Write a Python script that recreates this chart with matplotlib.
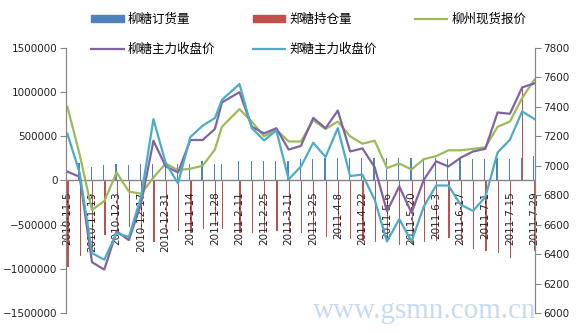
import matplotlib
matplotlib.use("Agg")
import matplotlib.pyplot as plt
import matplotlib.dates as mdates
from matplotlib.ticker import StrMethodFormatter
from matplotlib.patches import Patch
from matplotlib.lines import Line2D
import pandas as pd

# weekly observations; the 2011-02-01 point is the last trading day before the holiday
dates = [
    "2010-11-05", "2010-11-12", "2010-11-19", "2010-11-26", "2010-12-03",
    "2010-12-10", "2010-12-17", "2010-12-24", "2010-12-31", "2011-01-07",
    "2011-01-14", "2011-01-21", "2011-01-28", "2011-02-01", "2011-02-11",
    "2011-02-18", "2011-02-25", "2011-03-04", "2011-03-11", "2011-03-18",
    "2011-03-25", "2011-04-01", "2011-04-08", "2011-04-15", "2011-04-22",
    "2011-04-29", "2011-05-06", "2011-05-13", "2011-05-20", "2011-05-27",
    "2011-06-03", "2011-06-10", "2011-06-17", "2011-06-24", "2011-07-01",
    "2011-07-08", "2011-07-15", "2011-07-22", "2011-07-29",
]

tick_labels = [
    "2010-11-5", "2010-11-19", "2010-12-3", "2010-12-17", "2010-12-31",
    "2011-1-14", "2011-1-28", "2011-2-11", "2011-2-25", "2011-3-11",
    "2011-3-25", "2011-4-8", "2011-4-22", "2011-5-6", "2011-5-20",
    "2011-6-3", "2011-6-17", "2011-7-1", "2011-7-15", "2011-7-29",
]

# 柳糖订货量 / 郑糖持仓量 (left axis)
order_volume = [
    190000, 195000, 150000, 170000, 190000, 180000, 190000, 190000, 200000, 190000,
    190000, 225000, 190000, 190000, 225000, 225000, 225000, 225000, 225000, 245000,
    245000, 250000, 250000, 255000, 250000, 250000, 250000, 255000, 250000, 255000,
    250000, 245000, 250000, 245000, 240000, 250000, 245000, 250000, 280000,
]
open_interest = [
    -975000, -850000, -800000, -620000, -600000, -530000, -600000, -700000, -620000, -570000,
    -600000, -550000, -520000, -550000, -600000, -590000, -600000, -570000, -600000, -600000,
    -620000, -640000, -640000, -660000, -680000, -700000, -700000, -730000, -720000, -700000,
    -680000, -650000, -700000, -770000, -800000, -820000, -880000, 1060000, -800000,
]

# prices (right axis)
spot_price = [
    7400, 7075, 6700, 6760, 6955, 6825, 6810, 6920, 7015, 6970,
    6980, 7000, 7110, 7265, 7385, 7300, 7200, 7245, 7165, 7165,
    7310, 7250, 7300, 7200, 7150, 7170, 6985, 7015, 6975, 7045,
    7065, 7105, 7105, 7115, 7125, 7265, 7300, 7460, 7585,
]
liu_close = [
    6960, 6925, 6345, 6295, 6555, 6495, 6745, 7170, 6995, 6955,
    7175, 7175, 7250, 7430, 7500, 7265, 7220, 7255, 7110, 7135,
    7325, 7255, 7375, 7097, 7118, 6990, 6690, 6860, 6680, 6905,
    7030, 6995, 7055, 7097, 7115, 7362, 7353, 7532, 7560,
]
zheng_close = [
    7217, 6950, 6407, 6362, 6543, 6516, 6792, 7317, 7018, 6880,
    7195, 7272, 7324, 7448, 7555, 7256, 7172, 7240, 6908, 6995,
    7156, 7060, 7256, 6930, 6940, 6769, 6486, 6638, 6486, 6724,
    6866, 6866, 6735, 6694, 6787, 7090, 7177, 7369, 7317,
]

BLUE = "#4F81BD"
RED = "#C0504D"
GREEN = "#9BBB59"
PURPLE = "#8064A2"
TEAL = "#4BACC6"
AXIS_GRAY = "#868686"
CJK = ["Noto Sans CJK SC", "DejaVu Sans"]

x = mdates.date2num(pd.to_datetime(dates))
label_x = mdates.date2num(pd.to_datetime(tick_labels))

fig = plt.figure(figsize=(5.8, 3.33), dpi=100)
ax = fig.add_axes([0.1138, 0.0601, 0.8086, 0.7958])
ax2 = ax.twinx()

bw = 0.7
ax.bar(x - bw / 2, order_volume, width=bw, color=BLUE, zorder=2)
ax.bar(x + bw / 2, open_interest, width=bw, color=RED, zorder=2)
ax.axhline(0, color=AXIS_GRAY, lw=1, zorder=3)

ax2.plot(x, spot_price, color=GREEN, lw=1.6)
ax2.plot(x, liu_close, color=PURPLE, lw=1.6)
ax2.plot(x, zheng_close, color=TEAL, lw=1.6)

ax.set_xlim(x[0] - 0.8, x[-1] + 0.3)
ax.set_ylim(-1500000, 1500000)
ax.set_yticks(range(-1500000, 1500001, 500000))
ax.yaxis.set_major_formatter(StrMethodFormatter("{x:.0f}"))
ax2.set_ylim(6000, 7800)
ax2.set_yticks(range(6000, 7801, 200))
ax.set_xticks([])

for a in (ax, ax2):
    for side in ("top", "bottom"):
        a.spines[side].set_visible(False)
    a.spines["left"].set_color(AXIS_GRAY)
    a.spines["right"].set_color(AXIS_GRAY)
    a.tick_params(axis="y", length=4, width=0.8, color=AXIS_GRAY,
                  labelsize=7.5, pad=2, labelcolor="#222222")

# date labels hang just below the zero line
for lx, lab in zip(label_x, tick_labels):
    ax.text(lx, -125000, lab, rotation=90, ha="center", va="top",
            fontsize=7.5, color="#222222", zorder=4)

handles = [
    Patch(color=BLUE),
    Line2D([], [], color=PURPLE, lw=1.6),
    Patch(color=RED),
    Line2D([], [], color=TEAL, lw=1.6),
    Line2D([], [], color=GREEN, lw=1.6),
]
labels = ["柳糖订货量", "柳糖主力收盘价", "郑糖持仓量", "郑糖主力收盘价", "柳州现货报价"]
fig.legend(handles, labels, ncol=3, loc="upper left",
           bbox_to_anchor=(93 / 580 - 0.012, 1 - 8 / 333),
           frameon=False, prop={"family": CJK, "size": 9},
           handlelength=2.6, handleheight=0.55, handletextpad=0.35,
           columnspacing=3.0, labelspacing=1.35, borderaxespad=0)

fig.text(537 / 580, 1 - 318 / 333, "www.gsmn.com.cn", ha="right", va="baseline",
         fontsize=21, family="Liberation Serif", color="#C6DBF2", zorder=0)

fig.savefig("out.png", dpi=100)
